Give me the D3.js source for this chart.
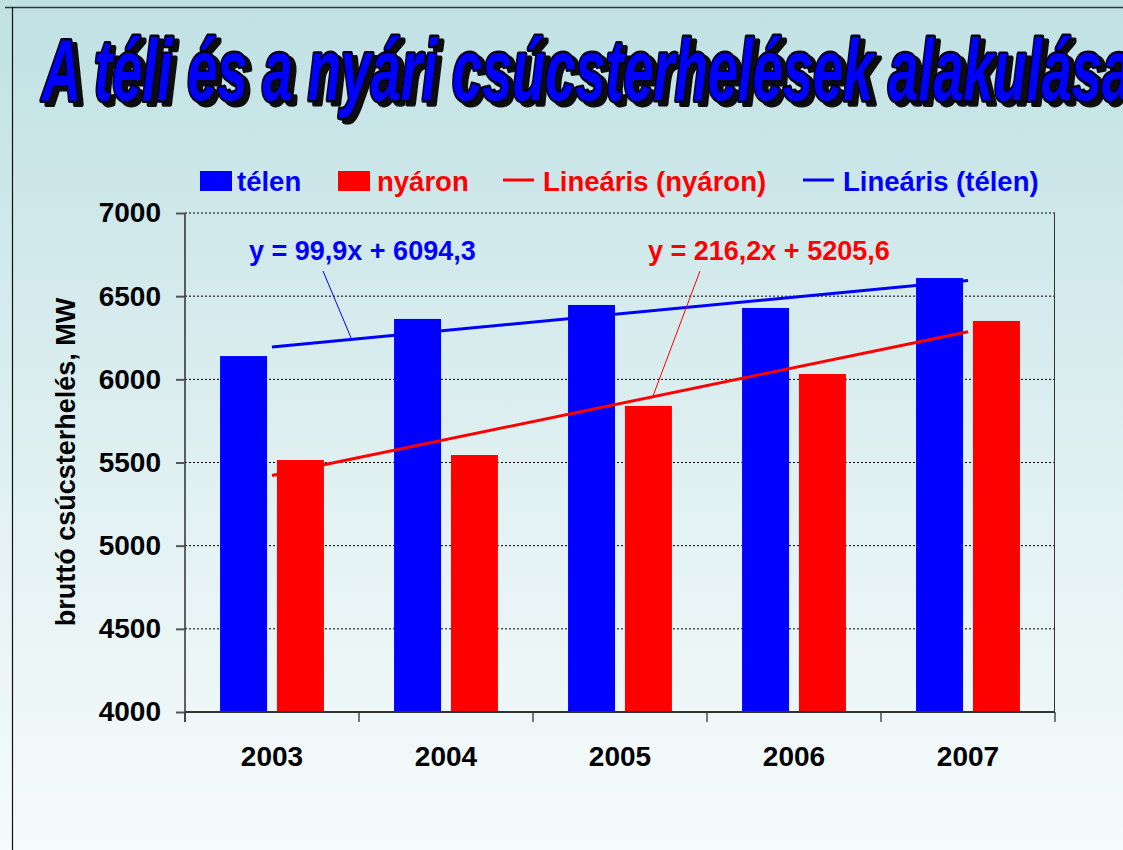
<!DOCTYPE html>
<html><head><meta charset="utf-8">
<script src="https://cdn.jsdelivr.net/npm/d3@7"></script>
<style>body{margin:0;overflow:hidden} svg{display:block}</style>
</head><body>
<svg id="c" width="1123" height="850"></svg>
<script>
// ---- data ----
const years = ["2003", "2004", "2005", "2006", "2007"];
const telen = [6140, 6363, 6447, 6429, 6609];
const nyaron = [5515, 5545, 5840, 6032, 6351];
const yTicks = [4000, 4500, 5000, 5500, 6000, 6500, 7000];
const trendTelen = [99.9, 6094.3];    // slope, intercept
const trendNyaron = [216.2, 5205.6];
const trendLabels = ["y = 99,9x + 6094,3", "y = 216,2x + 5205,6"];
const legendLabels = ["télen", "nyáron", "Lineáris (nyáron)", "Lineáris (télen)"];
const titleText = "A téli és a nyári csúcsterhelések alakulása";
const yTitle = "bruttó csúcsterhelés, MW";

const BLUE = "#0000ff", RED = "#ff0000";
const FONT = "'Liberation Sans', Arial, sans-serif";

const svg = d3.select("#c");
const W = 1123, H = 850;

// background
const defs = svg.append("defs");
const g0 = defs.append("linearGradient").attr("id", "bg").attr("x1", 0).attr("y1", 0).attr("x2", 0).attr("y2", 1);
g0.append("stop").attr("offset", "0%").attr("stop-color", "#c0e1e4");
g0.append("stop").attr("offset", "55%").attr("stop-color", "#e0f0f1");
g0.append("stop").attr("offset", "100%").attr("stop-color", "#f6fbfb");
svg.append("rect").attr("width", W).attr("height", H).attr("fill", "url(#bg)");

const sh = defs.append("filter").attr("id", "shadow").attr("x", "-5%").attr("y", "-20%").attr("width", "110%").attr("height", "150%");
sh.append("feDropShadow").attr("dx", 5).attr("dy", 4).attr("stdDeviation", 0.6)
  .attr("flood-color", "#111").attr("flood-opacity", 1);

// outer frame lines
svg.append("line").attr("x1", 5).attr("x2", W).attr("y1", 7.5).attr("y2", 7.5).attr("stroke", "#2b3b3b").attr("stroke-width", 1.5);
svg.append("line").attr("x1", 12.5).attr("x2", 12.5).attr("y1", 7).attr("y2", H).attr("stroke", "#111").attr("stroke-width", 1.2);

// title (one text: dark outline + blue fill + drop shadow)
svg.append("text").attr("x", 42).attr("y", 100)
  .attr("font-family", FONT).attr("font-weight", "bold").attr("font-style", "italic").attr("font-size", 87)
  .attr("textLength", 1090).attr("lengthAdjust", "spacingAndGlyphs")
  .attr("fill", BLUE).attr("stroke", "#000018").attr("stroke-width", 5).attr("stroke-linejoin", "round")
  .attr("paint-order", "stroke").attr("filter", "url(#shadow)")
  .text(titleText);

// scales
const x = d3.scaleBand().domain(years).range([185, 1055]).padding(0);
const y = d3.scaleLinear().domain([4000, 7000]).range([712, 213]);
const cx = d => x(d) + x.bandwidth() / 2;
const xi = d3.scaleLinear().domain([1, 5]).range([cx(years[0]), cx(years[4])]);

// gridlines
svg.append("g").selectAll("line").data(yTicks.filter(v => v > 4000)).join("line")
  .attr("x1", 185).attr("x2", 1055).attr("y1", d => y(d)).attr("y2", d => y(d))
  .attr("stroke", "#000").attr("stroke-width", 1).attr("stroke-dasharray", "2,2");

// plot border right
svg.append("line").attr("x1", 1054.5).attr("x2", 1054.5).attr("y1", 213).attr("y2", 712).attr("stroke", "#333").attr("stroke-width", 1);

// bars
const bw = x.bandwidth() * 0.27, gap = x.bandwidth() * 0.057;
svg.append("g").selectAll("rect").data(years).join("rect")
  .attr("x", d => cx(d) - gap / 2 - bw).attr("width", bw)
  .attr("y", (d, i) => y(telen[i])).attr("height", (d, i) => y(4000) - y(telen[i]))
  .attr("fill", BLUE);
svg.append("g").selectAll("rect").data(years).join("rect")
  .attr("x", d => cx(d) + gap / 2).attr("width", bw)
  .attr("y", (d, i) => y(nyaron[i])).attr("height", (d, i) => y(4000) - y(nyaron[i]))
  .attr("fill", RED);

// trend lines
const trendY = (t, k) => t[0] * k + t[1];
function drawTrend(t, color) {
  svg.append("line").attr("x1", xi(1)).attr("x2", xi(5))
    .attr("y1", y(trendY(t, 1))).attr("y2", y(trendY(t, 5)))
    .attr("stroke", color).attr("stroke-width", 3);
}
drawTrend(trendNyaron, RED);
drawTrend(trendTelen, BLUE);

// trend labels + leader lines
const ann = svg.append("g").attr("font-family", FONT).attr("font-weight", "bold").attr("font-size", 27);
ann.append("text").attr("x", 249).attr("y", 260).attr("fill", BLUE).text(trendLabels[0]);
ann.append("text").attr("x", 648).attr("y", 260).attr("fill", RED).text(trendLabels[1]);
const kB = xi.invert(351.7), kR = xi.invert(652.7);
svg.append("line").attr("x1", 323).attr("y1", 271).attr("x2", xi(kB)).attr("y2", y(trendY(trendTelen, kB)))
  .attr("stroke", BLUE).attr("stroke-width", 1);
svg.append("line").attr("x1", 700).attr("y1", 271).attr("x2", xi(kR)).attr("y2", y(trendY(trendNyaron, kR)))
  .attr("stroke", RED).attr("stroke-width", 1);

// y axis
const ya = svg.append("g").attr("transform", "translate(185,0)")
  .call(d3.axisLeft(y).tickValues(yTicks).tickSize(9).tickPadding(15).tickFormat(d3.format("d")));
ya.select(".domain").attr("stroke", "#111").attr("stroke-width", 1.3).attr("d", "M0,213V722");
ya.selectAll(".tick line").attr("stroke", "#555").attr("stroke-width", 2);
ya.selectAll("text").attr("font-family", FONT).attr("font-weight", "bold").attr("font-size", 28).attr("fill", "#000");

// x axis
const xa = svg.append("g").attr("transform", "translate(0,712)")
  .call(d3.axisBottom(x).tickSize(0).tickPadding(34));
xa.select(".domain").attr("stroke", "#333").attr("stroke-width", 2.2).attr("d", "M185,0H1055");
xa.selectAll("text").attr("font-family", FONT).attr("font-weight", "bold").attr("font-size", 28).attr("fill", "#000");
const bounds = years.map(d => x(d)).concat([x.range()[1]]);
xa.selectAll(".bt").data(bounds).join("line").attr("class", "bt")
  .attr("x1", d => d).attr("x2", d => d).attr("y1", 0).attr("y2", 10)
  .attr("stroke", "#333").attr("stroke-width", 1.3);

// y title
svg.append("text").attr("transform", "translate(75,462) rotate(-90)")
  .attr("text-anchor", "middle").attr("font-family", FONT).attr("font-weight", "bold").attr("font-size", 27)
  .attr("fill", "#000").text(yTitle);

// legend
const lg = svg.append("g").attr("font-family", FONT).attr("font-weight", "bold").attr("font-size", 27.5);
lg.append("rect").attr("x", 200).attr("y", 171).attr("width", 32).attr("height", 20).attr("fill", BLUE);
lg.append("text").attr("x", 237).attr("y", 191).attr("fill", BLUE).text(legendLabels[0]);
lg.append("rect").attr("x", 338).attr("y", 171).attr("width", 32).attr("height", 20).attr("fill", RED);
lg.append("text").attr("x", 377).attr("y", 191).attr("fill", RED).text(legendLabels[1]);
lg.append("line").attr("x1", 503).attr("x2", 534).attr("y1", 180).attr("y2", 180).attr("stroke", RED).attr("stroke-width", 3);
lg.append("text").attr("x", 543).attr("y", 191).attr("fill", RED).text(legendLabels[2]);
lg.append("line").attr("x1", 803).attr("x2", 834).attr("y1", 180).attr("y2", 180).attr("stroke", BLUE).attr("stroke-width", 3);
lg.append("text").attr("x", 843).attr("y", 191).attr("fill", BLUE).text(legendLabels[3]);
</script>
</body></html>
